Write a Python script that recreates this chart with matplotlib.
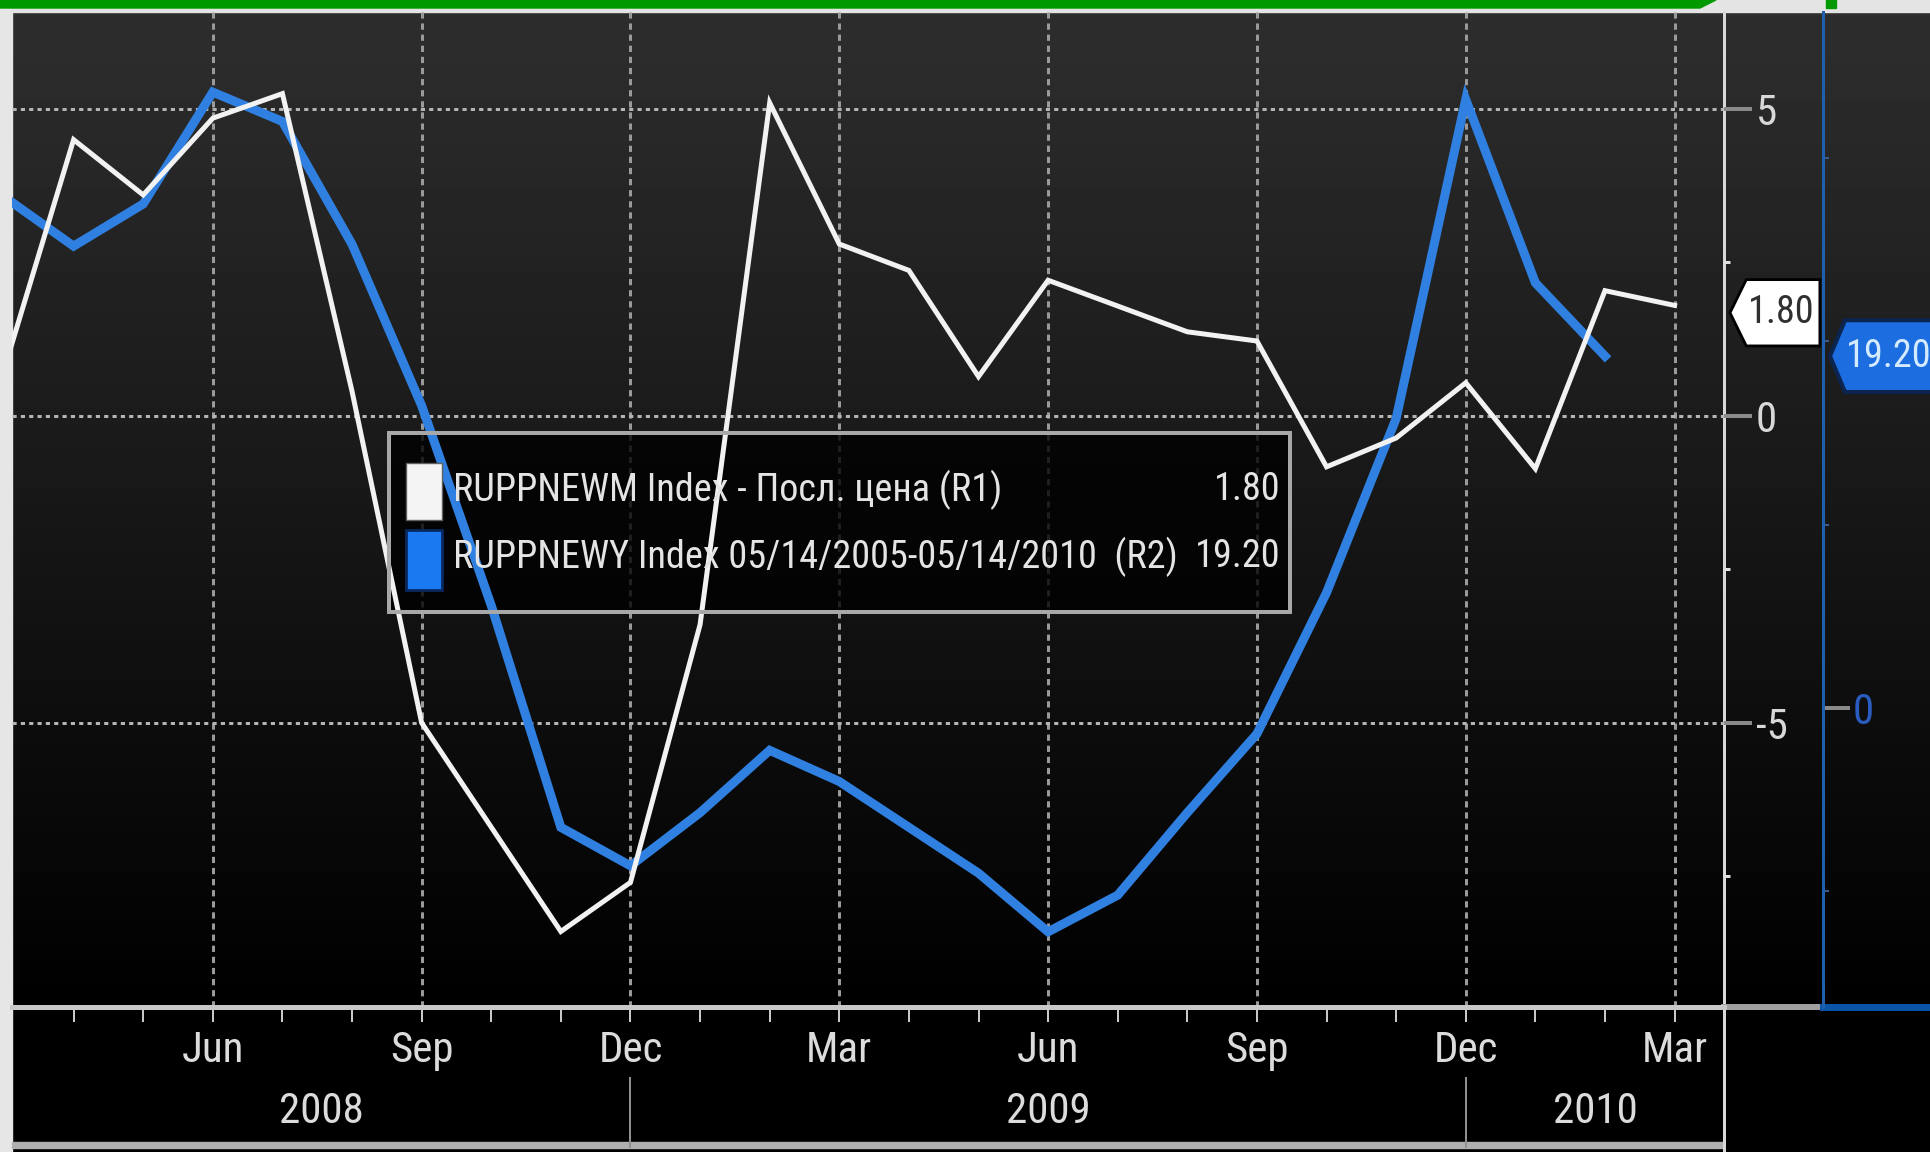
import numpy as np
import matplotlib
matplotlib.use("Agg")
import matplotlib.pyplot as plt
import matplotlib.transforms as mtransforms
from matplotlib import font_manager
from matplotlib.patches import Rectangle, Polygon
from matplotlib.ticker import FixedLocator, FixedFormatter, NullFormatter

# ---- данные (конец месяца, март 2008 - март 2010) ----
month_pos = np.arange(25)
ruppnewm = [0.75, 4.5, 3.6, 4.85, 5.25, 0.4, -5.0, -6.7, -8.4, -7.6, -3.4, 5.1, 2.8,
            2.37, 0.64, 2.21, 1.79, 1.37, 1.22, -0.83, -0.36, 0.54, -0.86, 2.04, 1.80]
ruppnewy = [27.9, 25.2, 27.5, 33.6, 32.0, 25.3, 16.5, 5.6, -6.5, -8.6, -5.7, -2.3,
            -4.0, -6.5, -9.0, -12.2, -10.2, -5.7, -1.4, 6.3, 15.8, 33.2, 23.2, 19.2]

quarter_pos = [3, 6, 9, 12, 15, 18, 21, 24]
quarter_labels = ["Jun", "Sep", "Dec", "Mar", "Jun", "Sep", "Dec", "Mar"]
year_labels = ["2008", "2009", "2010"]
year_breaks = [9, 21]

r1_ticks = [-5, 0, 5]
r1_minor = [-7.5, -2.5, 2.5]
r2_ticks = [0]
r2_minor = [-10, 10, 20, 30]

legend_names = ["RUPPNEWM Index - Посл. цена (R1)",
                "RUPPNEWY Index 05/14/2005-05/14/2010  (R2)"]

# ---- шрифт: узкий, если есть ----
available = {f.name for f in font_manager.fontManager.ttflist}
FONT, FS_LEG, FS_AX = "Liberation Sans", 24, 26
for name in ["Liberation Sans Narrow", "Roboto Condensed", "Open Sans Condensed"]:
    if name in available:
        FONT, FS_LEG, FS_AX = name, 27.5, 31
        break
plt.rcParams["font.family"] = [FONT, "DejaVu Sans"]
plt.rcParams["lines.scale_dashes"] = False
plt.rcParams["axes.unicode_minus"] = False

W, H = 1930, 1152
AX_L, AX_R, AX_T, AX_B = 12, 1724, 12, 1007
PX = 72 / 100  # пиксели -> пункты

fig = plt.figure(figsize=(W / 100, H / 100), dpi=100, facecolor="black")

# фон, рамки, полосы
bg = fig.add_axes([0, 0, 1, 1], zorder=-10)
bg.set_xlim(0, W)
bg.set_ylim(H, 0)
bg.axis("off")
bg.set_facecolor("black")
grad = np.linspace(0.18, 0.0, 256)[:, None]
bg.imshow(grad, cmap="gray", vmin=0, vmax=1, extent=[AX_L, W, AX_B, AX_T],
          aspect="auto", zorder=0.5)
bg.add_patch(Rectangle((0, 0), W, AX_T, color="#e4e4e4", zorder=2))
bg.add_patch(Rectangle((0, 0), AX_L, H, color="#e6e6e6", zorder=2))
bg.add_patch(Polygon([(0, 0), (1716, 0), (1700, 8), (0, 8)], color="#009a00", zorder=3))
bg.add_patch(Rectangle((1826, 0), 10, 8, color="#009a00", zorder=3))
bg.add_patch(Rectangle((AX_L, 1142), AX_R - AX_L, 6, color="#b0b0b0", zorder=2))
bg.plot([AX_R, AX_R], [AX_T, H], color="#d8d8d8", lw=3 * PX, zorder=3)
bg.plot([AX_R, 1823], [AX_B, AX_B], color="#a0a0a0", lw=6 * PX, zorder=3)
bg.plot([1823, W], [AX_B, AX_B], color="#0a55a8", lw=7 * PX, zorder=3)

ax = fig.add_axes([AX_L / W, (H - AX_B) / H, (AX_R - AX_L) / W, (AX_B - AX_T) / H])
ax.patch.set_visible(False)
ax2 = ax.twinx()

ax.set_xlim(0.115, 24.71)
ax.set_ylim(-9.63, 6.58)
ax2.set_ylim(-16.3, 37.97)

# сетка
for xv in quarter_pos:
    ax.axvline(xv, color="#9a9a9a", lw=3 * PX, ls=(0, (4.5, 3.5)), zorder=1)
for yv in r1_ticks:
    ax.axhline(yv, color="#b4b4b4", lw=3 * PX, ls=(0, (3, 3)), zorder=1)

# линии
ax.plot(month_pos[:len(ruppnewy)], ruppnewy, color="#2f80e0", lw=9 * PX,
        solid_joinstyle="miter", transform=ax2.transData, zorder=2)
ax.plot(month_pos, ruppnewm, color="#f2f2f2", lw=5 * PX, solid_joinstyle="miter", zorder=2.5)

# легенда
ax.add_patch(Rectangle((0.2202, 0.3970), 0.5263, 0.1799, transform=ax.transAxes,
                       fc="black", alpha=0.8, ec="none", zorder=1.5))
ax.add_patch(Rectangle((0.2202, 0.3970), 0.5263, 0.1799, transform=ax.transAxes,
                       fc="none", ec="#a8a8a8", lw=4 * PX, zorder=3))
ax.add_patch(Rectangle((0.2301, 0.4894), 0.0211, 0.0573, transform=ax.transAxes,
                       fc="#f4f4f4", ec="#606060", lw=1, zorder=3))
ax.add_patch(Rectangle((0.2301, 0.4191), 0.0211, 0.0603, transform=ax.transAxes,
                       fc="#1a78f0", ec="#0a2860", lw=2, zorder=3))
legend_vals = [f"{ruppnewm[-1]:.2f}", f"{ruppnewy[-1]:.2f}"]
for yy, name, val in zip([0.5196, 0.4523], legend_names, legend_vals):
    ax.text(0.2576, yy, name, transform=ax.transAxes, fontsize=FS_LEG, color="#e4e4e4",
            ha="left", va="center", zorder=4)
    ax.text(0.7412, yy, val, transform=ax.transAxes, fontsize=FS_LEG, color="#e4e4e4",
            ha="right", va="center", zorder=4)

# метки последних значений
tr1 = mtransforms.blended_transform_factory(ax.transAxes, ax.transData)
v1 = ruppnewm[-1] - 0.12
ax.add_patch(Polygon([(1.0035, v1), (1.013, v1 + 0.54), (1.056, v1 + 0.54),
                      (1.056, v1 - 0.54), (1.013, v1 - 0.54)], closed=True,
                     transform=tr1, fc="white", ec="black", lw=2, clip_on=False, zorder=5))
ax.text(1.0335, v1, legend_vals[0], transform=tr1, fontsize=FS_LEG, color="#303030",
        ha="center", va="center", clip_on=False, zorder=6)

tr2 = mtransforms.blended_transform_factory(ax.transAxes, ax2.transData)
v2 = ruppnewy[-1]
ax.add_patch(Polygon([(1.0619, v2), (1.0707, v2 + 1.96), (1.15, v2 + 1.96),
                      (1.15, v2 - 1.96), (1.0707, v2 - 1.96)], closed=True,
                     transform=tr2, fc="#1c6ee0", ec="#0b2550", lw=3, clip_on=False, zorder=5))
ax.text(1.0713, v2, legend_vals[1], transform=tr2, fontsize=FS_LEG, color="#d4eaff",
        ha="left", va="center", clip_on=False, zorder=6)

# оси
for s in ["left", "top", "right"]:
    ax.spines[s].set_visible(False)
ax.spines["bottom"].set_color("#c8c8c8")
ax.spines["bottom"].set_linewidth(5 * PX)

ax.xaxis.set_major_locator(FixedLocator(quarter_pos))
ax.xaxis.set_major_formatter(FixedFormatter(quarter_labels))
ax.xaxis.set_minor_locator(FixedLocator([m for m in month_pos[1:] if m not in quarter_pos]))
ax.tick_params(axis="x", which="both", direction="out", length=15 * PX, width=2 * PX,
               color="#c8c8c8", labelsize=FS_AX, labelcolor="#dcdcdc", pad=6)

ax.yaxis.tick_right()
ax.yaxis.set_major_locator(FixedLocator(r1_ticks))
ax.yaxis.set_minor_locator(FixedLocator(r1_minor))
ax.yaxis.set_minor_formatter(NullFormatter())
ax.tick_params(axis="y", which="major", direction="out", length=28 * PX, width=4 * PX,
               color="#8a8a8a", labelsize=FS_AX, labelcolor="#d8d8d8", pad=4 * PX)
ax.tick_params(axis="y", which="minor", direction="out", length=6 * PX, width=3 * PX,
               color="#e0e0e0")

for s in ["left", "top", "bottom"]:
    ax2.spines[s].set_visible(False)
ax2.spines["right"].set_position(("axes", (1823 - AX_L) / (AX_R - AX_L)))
ax2.spines["right"].set_color("#1f5fb0")
ax2.spines["right"].set_linewidth(3 * PX)
ax2.yaxis.set_major_locator(FixedLocator(r2_ticks))
ax2.yaxis.set_minor_locator(FixedLocator(r2_minor))
ax2.yaxis.set_minor_formatter(NullFormatter())
ax2.tick_params(axis="y", which="major", direction="out", length=27 * PX, width=4 * PX,
                color="#8a8a8a", labelsize=FS_AX, labelcolor="#2a5cc0", pad=3 * PX)
ax2.tick_params(axis="y", which="minor", direction="out", length=6 * PX, width=2 * PX,
                color="#3a5a90")

# годы и разделители
trx = mtransforms.blended_transform_factory(ax.transData, ax.transAxes)
xmin, xmax = ax.get_xlim()
edges = [xmin] + year_breaks + [xmax]
for i, lab in enumerate(year_labels):
    ax.text((edges[i] + edges[i + 1]) / 2, -0.1055, lab, transform=trx, fontsize=FS_AX,
            color="#dcdcdc", ha="center", va="center", clip_on=False)
for xb in year_breaks:
    ax.plot([xb, xb], [-0.071, -0.1407], transform=trx, color="#909090", lw=2 * PX,
            clip_on=False)

fig.savefig("out.png", dpi=100, facecolor="black")
